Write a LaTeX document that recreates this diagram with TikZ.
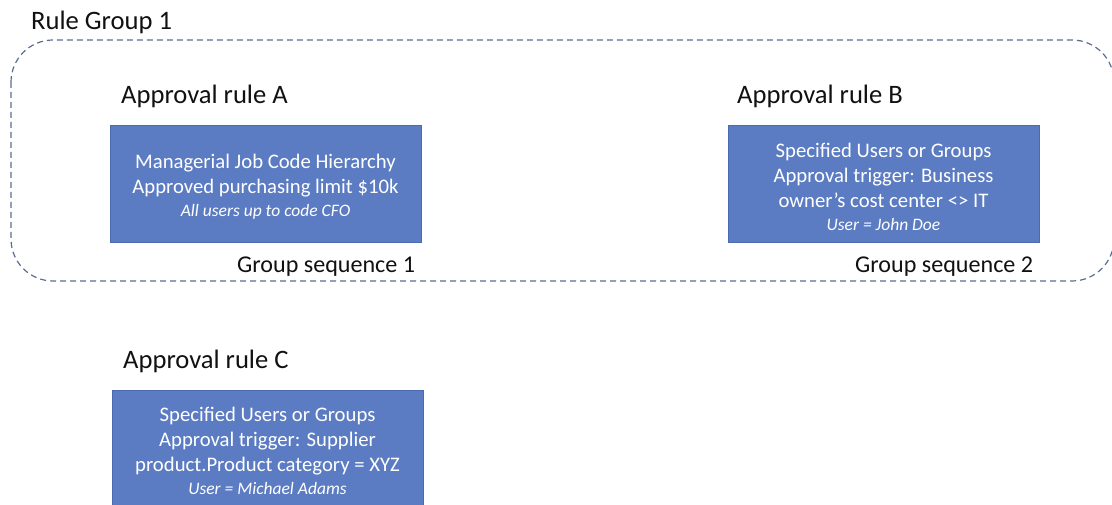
\documentclass[tikz,border=0pt]{standalone}
\usepackage{fontspec}
\setmainfont{Carlito}
\definecolor{boxfill}{HTML}{5B7CC2}
\definecolor{boxline}{HTML}{4A6BB0}
\definecolor{dashcol}{HTML}{5A6B92}
\definecolor{lbl}{HTML}{111111}
\newcommand{\smallit}[1]{{\fontsize{17.5}{20}\selectfont\itshape #1}}
\newcommand{\topstrut}{\rule{0pt}{20pt}}
\begin{document}
\begin{tikzpicture}[x=1pt,y=-1pt,
  rulebox/.style={draw=boxline,line width=0.8pt,fill=boxfill,text=white,
    minimum width=311pt,minimum height=117pt,inner sep=0pt,align=center,
    font=\fontsize{20.7}{25}\selectfont},
  title/.style={anchor=base west,text=lbl,inner sep=0pt,font=\fontsize{26.6}{30}\selectfont},
  seq/.style={anchor=base west,text=lbl,inner sep=0pt,font=\fontsize{24.1}{28}\selectfont},
  group/.style={draw=dashcol,line width=1.2pt,dash pattern=on 6pt off 4pt,rounded corners=42pt}]
\useasboundingbox (0,0) rectangle (1112,505);
\draw[group] (11,40) rectangle (1114,281);
\node[title] (rg) at (31,30) {Rule Group 1};
\node[title] (tA) at (121,104) {Approval rule A};
\node[title] (tB) at (737,104) {Approval rule B};
\node[title] (tC) at (123,368) {Approval rule C};
\node[rulebox] (A) at (265.5,184) {\topstrut Managerial Job Code Hierarchy\\Approved purchasing limit \$10k\\[-2pt]\smallit{All users up to code CFO}};
\node[rulebox] (B) at (883.5,184) {\topstrut Specified Users or Groups\\Approval trigger: Business\\owner’s cost center <> IT\\[-2pt]\smallit{User = John Doe}};
\node[rulebox] (C) at (267.5,448.5) {\topstrut Specified Users or Groups\\Approval trigger: Supplier\\product.Product category = XYZ\\[-2pt]\smallit{User = Michael Adams}};
\node[seq] (sA) at (237,273) {Group sequence 1};
\node[seq] (sB) at (855,273) {Group sequence 2};
\end{tikzpicture}
\end{document}
